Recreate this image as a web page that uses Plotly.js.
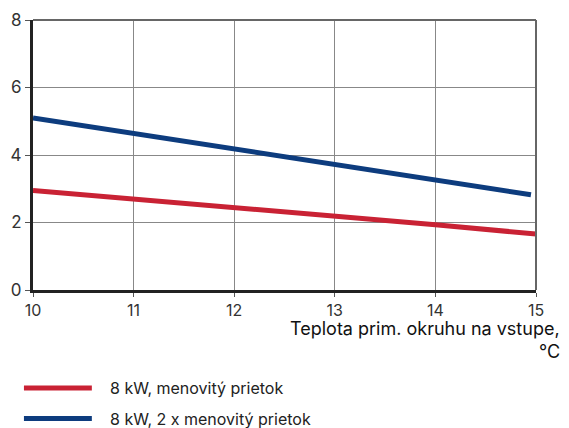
<!DOCTYPE html>
<html><head><meta charset="utf-8">
<script src="https://cdn.plot.ly/plotly-3.0.1.min.js"></script>
<style>html,body{margin:0;padding:0;background:#fff}#c{width:569px;height:428px}</style>
</head><body><div id="c"></div>
<script>
const temps = [10, 11, 12, 13, 14, 15];
const redVals = [2.95, 2.70, 2.45, 2.19, 1.93, 1.66];
const blueX = [10, 11, 12, 13, 14, 14.95];
const blueVals = [5.10, 4.64, 4.18, 3.70, 3.26, 2.82];
const seriesNames = ['8 kW, menovitý prietok', '8 kW, 2 x menovitý prietok'];
const seriesColors = ['#c92234', '#0d3c7e'];
const xTitleLines = ['Teplota prim. okruhu na vstupe,', '°C'];

const FONT = 'Inter, Roboto, sans-serif';
const traces = [
  {x: temps, y: redVals, name: seriesNames[0], mode: 'lines', line: {color: seriesColors[0], width: 5}},
  {x: blueX, y: blueVals, name: seriesNames[1], mode: 'lines', line: {color: seriesColors[1], width: 5}}
];
// manual legend (paper coords: plot spans x 33..536 px, y 20..290 px)
const legY = [-0.363, -0.476];
const legShapes = seriesColors.map((c, i) => ({type: 'line', xref: 'paper', yref: 'paper',
  x0: -0.018, x1: 0.117, y0: legY[i], y1: legY[i], line: {color: c, width: 5}}));
const legAnn = seriesNames.map((n, i) => ({text: n, xref: 'paper', yref: 'paper', x: 0.149, y: legY[i],
  xanchor: 'left', yanchor: 'middle', showarrow: false, font: {family: FONT, size: 16, color: '#222'}}));
const titleY = [-0.143, -0.228];
const titleAnn = xTitleLines.map((t, i) => ({text: t, xref: 'paper', yref: 'paper', x: 1.052, y: titleY[i],
  xanchor: 'right', yanchor: 'middle', align: 'right', showarrow: false,
  font: {family: FONT, size: 18, color: '#111'}}));

const layout = {
  width: 569, height: 428,
  margin: {l: 33, r: 33, t: 20, b: 138},
  paper_bgcolor: '#fff', plot_bgcolor: '#fff',
  font: {family: FONT, size: 18, color: '#333'},
  showlegend: false,
  xaxis: {range: [10, 15], tickvals: temps, ticktext: temps.map(String),
          showgrid: true, gridcolor: '#888', gridwidth: 1,
          showline: true, linecolor: '#222', linewidth: 3,
          ticks: 'outside', ticklen: 4, tickcolor: '#555', tickwidth: 1,
          zeroline: false, tickfont: {size: 16, color: '#333'}},
  yaxis: {range: [0, 8], tickvals: [0, 2, 4, 6, 8],
          showgrid: true, gridcolor: '#888', gridwidth: 1,
          showline: true, linecolor: '#222', linewidth: 3,
          ticks: 'outside', ticklen: 5, tickcolor: '#555', tickwidth: 1,
          zeroline: false, tickfont: {size: 17, color: '#333'}},
  shapes: [
    {type: 'line', xref: 'paper', yref: 'paper', x0: 0, x1: 1, y0: 1, y1: 1, line: {color: '#666', width: 2}},
    {type: 'line', xref: 'paper', yref: 'paper', x0: 1, x1: 1, y0: 0, y1: 1, line: {color: '#666', width: 2}}
  ].concat(legShapes),
  annotations: titleAnn.concat(legAnn)
};
Plotly.newPlot('c', traces, layout, {displayModeBar: false, staticPlot: true});
</script></body></html>
